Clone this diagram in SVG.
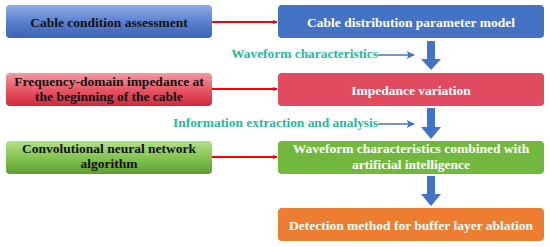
<svg xmlns="http://www.w3.org/2000/svg" width="550" height="247" viewBox="0 0 550 247">
<defs>
<linearGradient id="gBlue" x1="0" y1="0" x2="0" y2="1"><stop offset="0" stop-color="#8eaee6"/><stop offset="0.5" stop-color="#5b82d0"/><stop offset="1" stop-color="#3b62b3"/></linearGradient>
<linearGradient id="gRed" x1="0" y1="0" x2="0" y2="1"><stop offset="0" stop-color="#f49aa4"/><stop offset="0.5" stop-color="#e65766"/><stop offset="1" stop-color="#d02a3c"/></linearGradient>
<linearGradient id="gGreen" x1="0" y1="0" x2="0" y2="1"><stop offset="0" stop-color="#b5df8e"/><stop offset="0.5" stop-color="#84c452"/><stop offset="1" stop-color="#5e9e2f"/></linearGradient>
<marker id="mRed" viewBox="0 0 10 10" refX="9" refY="5" markerWidth="5" markerHeight="5" orient="auto" markerUnits="userSpaceOnUse"><path d="M0,0 L10,5 L0,10 L3,5 Z" fill="#ff0000"/></marker>
<marker id="mBlueS" viewBox="0 0 10 10" refX="9" refY="5" markerWidth="9" markerHeight="8" orient="auto" markerUnits="userSpaceOnUse"><path d="M0,0 L10,5 L0,10 L2,5 Z" fill="#4472c4"/></marker>
</defs>
<style>
.tb{font-weight:bold;font-size:13.5px;text-anchor:middle}
.dark{fill:#111111}
.light{fill:#ffffff}
.lab{font-weight:bold;font-size:13.4px;fill:#1fb8a0;text-anchor:end}
.red{stroke:#ff0000;stroke-width:2;fill:none}
.thin{stroke:#4472c4;stroke-width:1.5;fill:none}
.big{fill:#4472c4}
</style>
<g font-family="Liberation Serif, Times New Roman, serif">
<g id="n-assess"><rect x="6" y="5" width="206" height="33" rx="4" fill="url(#gBlue)"/><text class="tb dark" x="109" y="27">Cable condition assessment</text></g>
<g id="n-freq"><rect x="6" y="73" width="206" height="33" rx="4" fill="url(#gRed)"/><text class="tb dark" x="109" y="86">Frequency-domain impedance at</text><text class="tb dark" x="109" y="101">the beginning of the cable</text></g>
<g id="n-cnn"><rect x="6" y="141" width="206" height="33" rx="4" fill="url(#gGreen)"/><text class="tb dark" x="109" y="153">Convolutional neural network</text><text class="tb dark" x="109" y="168">algorithm</text></g>
<g id="n-model"><rect x="278" y="5" width="266" height="33" rx="4" fill="#4472c4"/><text class="tb light" x="411" y="27">Cable distribution parameter model</text></g>
<g id="n-imp"><rect x="278" y="73" width="266" height="33" rx="4" fill="#e04b5f"/><text class="tb light" x="411" y="95">Impedance variation</text></g>
<g id="n-wave"><rect x="278" y="141" width="266" height="33" rx="4" fill="#72b83e"/><text class="tb light" x="411" y="153">Waveform characteristics combined with</text><text class="tb light" x="411" y="169">artificial intelligence</text></g>
<g id="n-detect"><rect x="278" y="208" width="266" height="33" rx="4" fill="#ed7d31"/><text class="tb light" x="411" y="230">Detection method for buffer layer ablation</text></g>
<g id="connectors">
<line class="red" x1="212" y1="22" x2="277" y2="22" marker-end="url(#mRed)"/>
<line class="red" x1="212" y1="89" x2="277" y2="89" marker-end="url(#mRed)"/>
<line class="red" x1="212" y1="157" x2="277" y2="157" marker-end="url(#mRed)"/>
<path class="big" d="M427,41 H435 V59 H441 L431,70 L421,59 H427 Z"/>
<path class="big" d="M427,108 H435 V127 H441 L431,139 L421,127 H427 Z"/>
<path class="big" d="M427,176 H435 V194 H441 L431,206 L421,194 H427 Z"/>
<text class="lab" x="378" y="58">Waveform characteristics</text>
<line class="thin" x1="378" y1="55" x2="414" y2="55" marker-end="url(#mBlueS)"/>
<text class="lab" x="378" y="127">Information extraction and analysis</text>
<line class="thin" x1="378" y1="124" x2="414" y2="124" marker-end="url(#mBlueS)"/>
</g>
</g>
</svg>
